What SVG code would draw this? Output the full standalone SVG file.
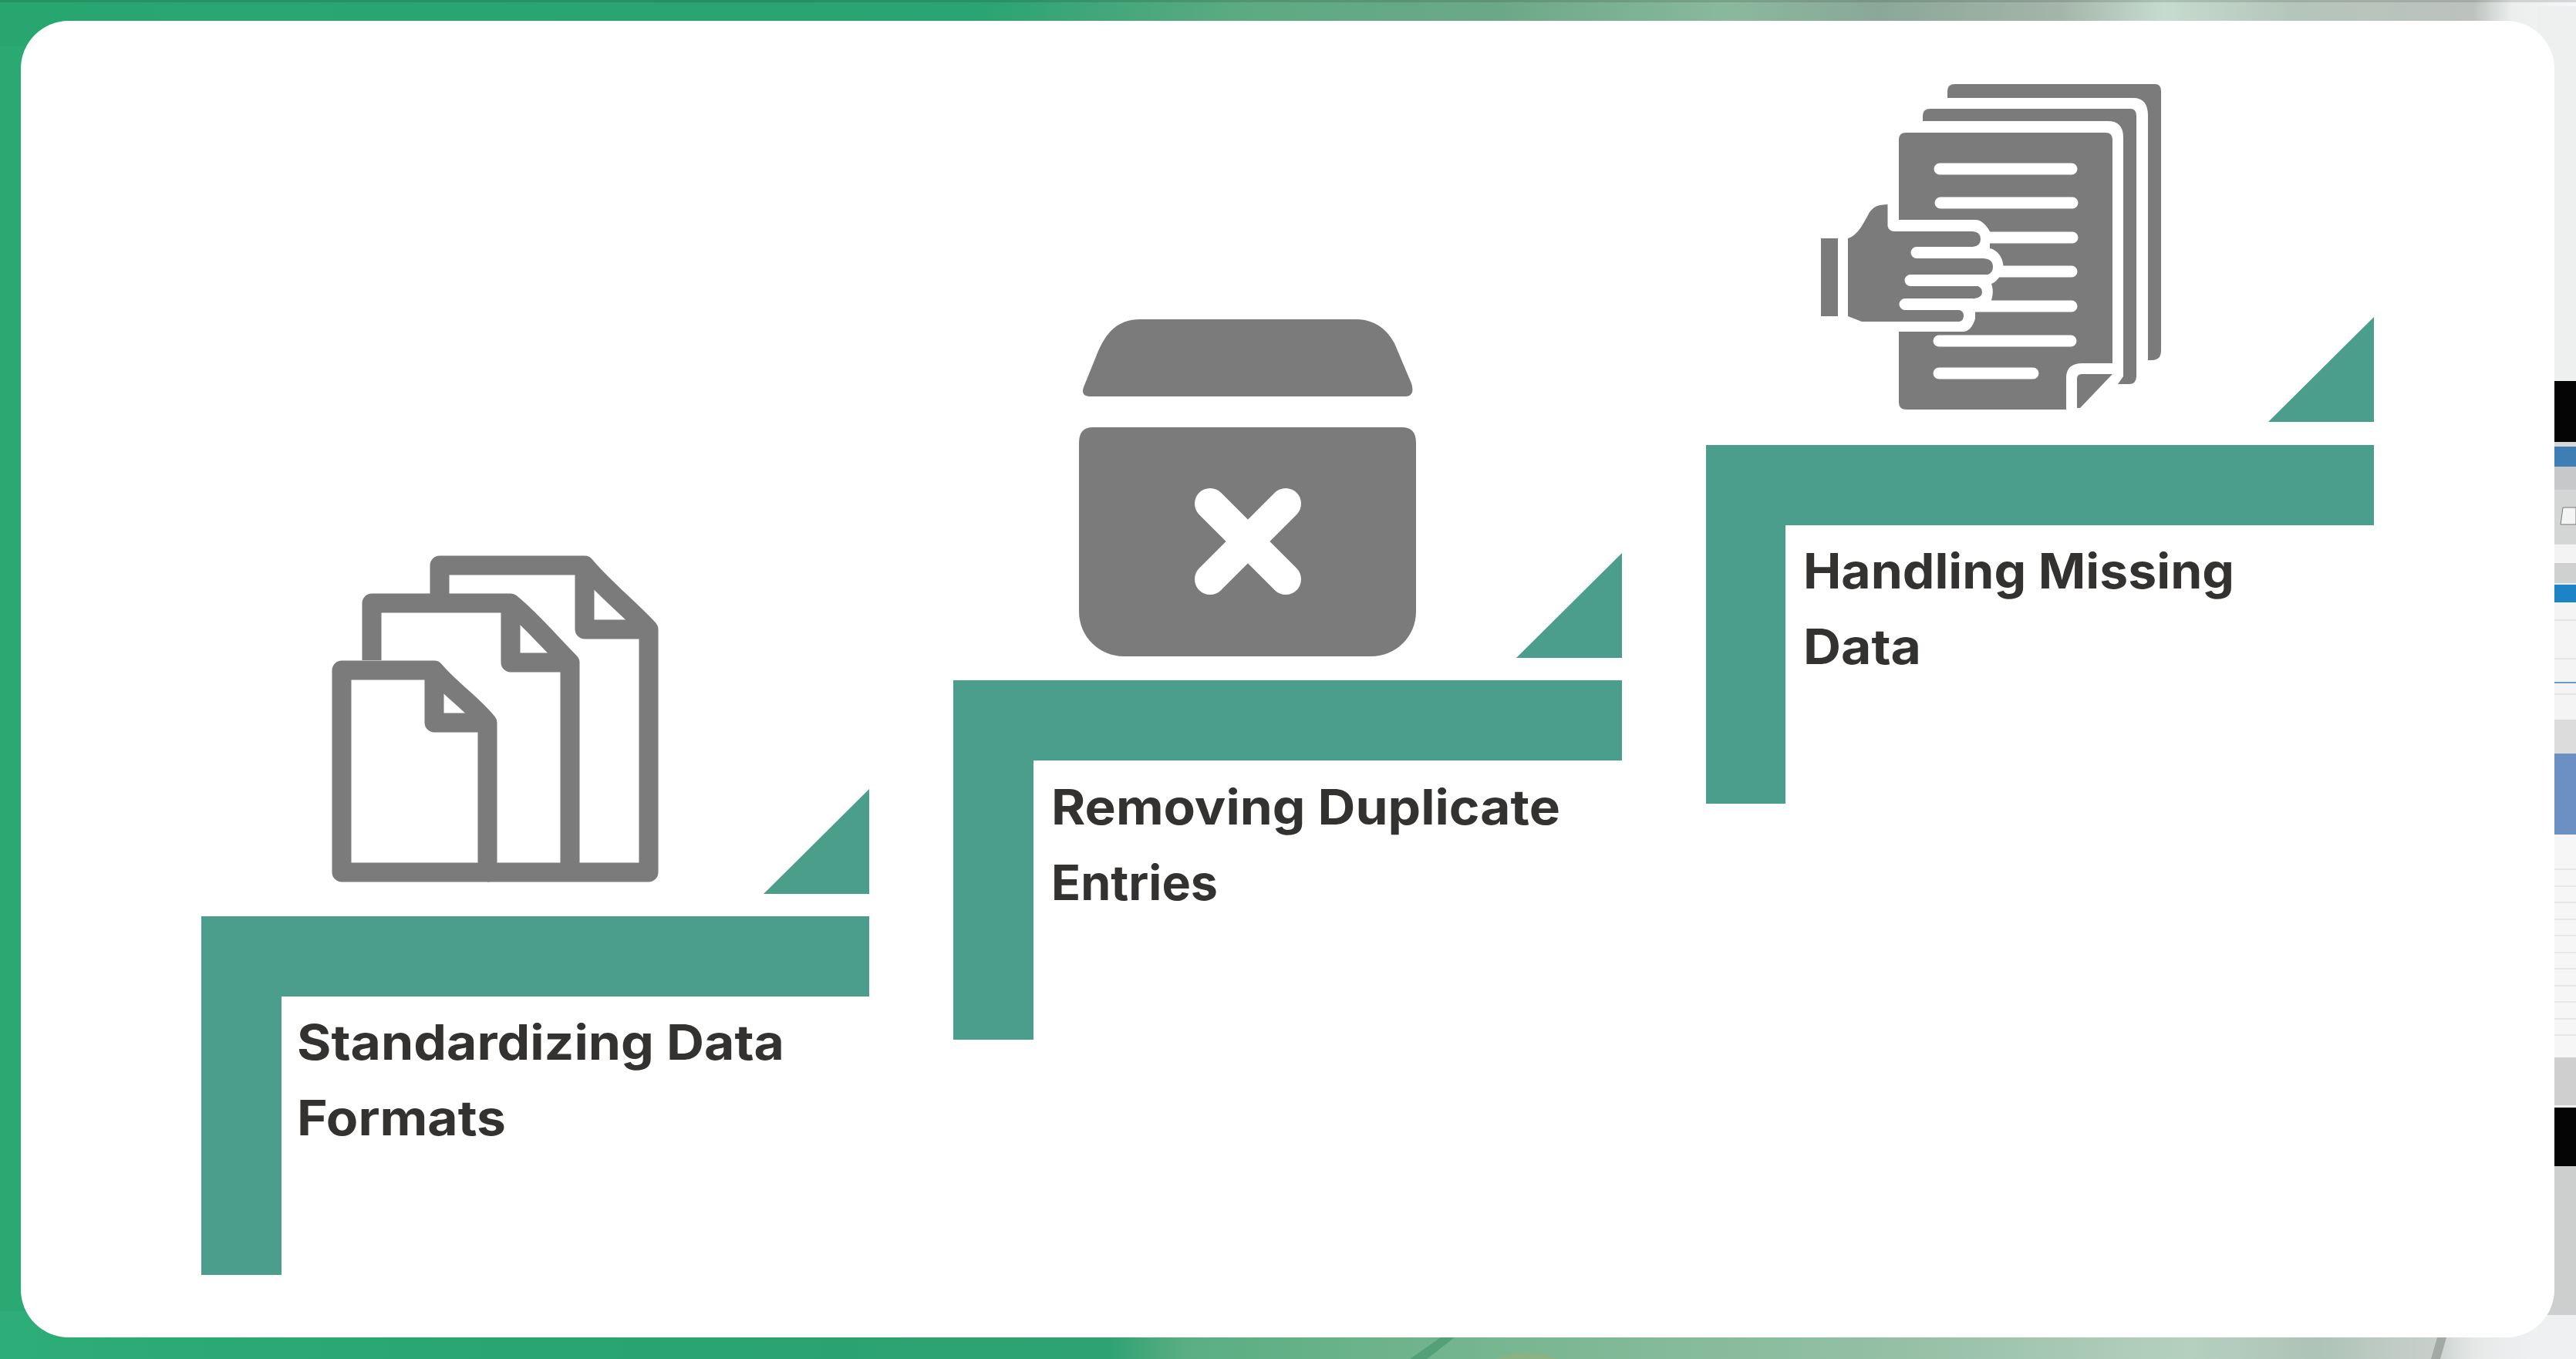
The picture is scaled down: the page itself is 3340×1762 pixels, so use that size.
<svg xmlns="http://www.w3.org/2000/svg" width="3340" height="1762" viewBox="0 0 3340 1762">
<style>
.teal{fill:#4a9e8b}
.ink{fill:#7b7b7b}
.w{fill:#fff}
.o{fill:none;stroke:#7b7b7b;stroke-width:25;stroke-linejoin:round}
.l{fill:none;stroke:#fff;stroke-width:15;stroke-linecap:round}
.x{fill:none;stroke:#fff;stroke-width:40;stroke-linecap:round}
.t{font-family:"Inter","Liberation Sans",sans-serif;font-weight:700;font-size:63px;fill:#333230}
</style>
<defs>
<linearGradient id="gb" x1="0" x2="3340" y1="0" y2="0" gradientUnits="userSpaceOnUse">
<stop offset="0" stop-color="#2dad78"/><stop offset=".2" stop-color="#28a570"/><stop offset=".43" stop-color="#2ea272"/><stop offset=".46" stop-color="#5aae83"/><stop offset=".6" stop-color="#7bb793"/><stop offset=".75" stop-color="#98c1a8"/><stop offset=".85" stop-color="#b5d0bf"/><stop offset=".9" stop-color="#aec3b8"/><stop offset=".945" stop-color="#c9d0cc"/><stop offset=".96" stop-color="#e6e8e8"/><stop offset="1" stop-color="#f5f6f8"/>
</linearGradient>
<linearGradient id="gt" x1="0" x2="3340" y1="0" y2="0" gradientUnits="userSpaceOnUse">
<stop offset="0" stop-color="#28a670"/><stop offset=".38" stop-color="#2aa472"/><stop offset=".48" stop-color="#5caa82"/><stop offset=".58" stop-color="#6ba888"/><stop offset=".67" stop-color="#8ab99d"/><stop offset=".73" stop-color="#8aa898"/><stop offset=".8" stop-color="#a5b5ab"/><stop offset=".84" stop-color="#c6dccf"/><stop offset=".89" stop-color="#b5c5bb"/><stop offset=".96" stop-color="#bcc2be"/><stop offset=".975" stop-color="#eceeee"/><stop offset="1" stop-color="#f5f6f7"/>
</linearGradient>
</defs>
<g id="background">
<rect x="0" y="0" width="3340" height="1762" fill="#2aa972"/>
<rect x="0" y="0" width="3340" height="60" fill="url(#gt)"/>
<rect x="0" y="0" width="3340" height="3" fill="#000" opacity=".12"/>
<rect x="0" y="1700" width="3340" height="62" fill="url(#gb)"/>
<path d="M1868 1734 L1886 1734 L1850 1762 L1828 1762 Z" fill="#3d8f68" opacity=".55"/>
<path d="M1940 1762 Q1975 1745 2020 1762 Z" fill="#a8ad6c" opacity=".4"/>
<path d="M3160 1734 L3172 1734 L3164 1762 L3152 1762 Z" fill="#a2aaa6"/>
<rect x="3290" y="8" width="50" height="1697" fill="#eef0f0"/>
<rect x="3290" y="1511" width="50" height="194" fill="#cdcfcf"/>
<rect x="3290" y="1705" width="50" height="57" fill="#eff0f1"/>
<rect x="3300" y="494" width="40" height="79" fill="#050505"/>
<rect x="3300" y="573" width="40" height="6" fill="#d8d8d8"/>
<rect x="3300" y="579" width="40" height="26" fill="#3f7db5"/>
<rect x="3300" y="605" width="40" height="30" fill="#c6c8c9"/>
<rect x="3300" y="635" width="40" height="71" fill="#d4d5d5"/>
<path d="M3323 658 H3340 V680 H3320 Z" fill="#f4f4f4" stroke="#777" stroke-width="1"/>
<rect x="3300" y="706" width="40" height="24" fill="#f3f3f3"/>
<rect x="3300" y="730" width="40" height="26" fill="#cfd0d0"/>
<rect x="3300" y="758" width="40" height="23" fill="#1c84c6"/>
<rect x="3300" y="781" width="40" height="152" fill="#f4f4f5"/>
<path d="M3300 804H3340M3300 854H3340M3300 900H3340" stroke="#dedede" stroke-width="1.5"/>
<path d="M3300 885H3340" stroke="#3f7db5" stroke-width="1.5"/>
<rect x="3300" y="933" width="40" height="44" fill="#dcdcdc"/>
<rect x="3300" y="977" width="40" height="105" fill="#6d90c4"/>
<rect x="3300" y="1082" width="40" height="289" fill="#f6f6f6"/>
<path d="M3300 1127H3340M3300 1149H3340M3300 1170H3340M3300 1192H3340M3300 1213H3340M3300 1235H3340M3300 1256H3340M3300 1278H3340M3300 1299H3340M3300 1321H3340M3300 1342H3340" stroke="#e2e2e2" stroke-width="1.5"/>
<rect x="3300" y="1371" width="40" height="62" fill="#cfcfcf"/>
<rect x="3300" y="1436" width="40" height="76" fill="#050505"/>
</g>
<rect id="card" x="27" y="27" width="3285" height="1707" rx="62" ry="62" fill="#fff"/>

<g id="step-1">
<path class="teal" d="M261 1188H1127V1292H365V1653H261Z"/>
<path class="teal" d="M990 1159H1127V1023Z"/>
<g id="icon-1">
<path class="o" d="M443 869H563C585 895 612 912 632 937V1131H443Z"/>
<path class="o" d="M563 869V937H632"/>
<path class="o" d="M482 856V782H662C690 805 715 835 739 859V1131"/>
<path class="o" d="M662 782V859H739"/>
<path class="o" d="M570 782V733H758C780 760 815 788 841 816V1131H632"/>
<path class="o" d="M758 733V816H841"/>
</g>
<text class="t" x="385" y="1374" textLength="632" lengthAdjust="spacingAndGlyphs">Standardizing Data</text>
<text class="t" x="385" y="1472" textLength="271" lengthAdjust="spacingAndGlyphs">Formats</text>
</g>

<g id="step-2">
<path class="teal" d="M1236 882H2103V986H1340V1348H1236Z"/>
<path class="teal" d="M1966 853H2103V717Z"/>
<g id="icon-2">
<path class="ink" d="M1412 514Q1401 513 1405 502L1422 460C1434 430 1450 414 1478 414H1758C1785 414 1800 430 1808 445L1830 497Q1835 513 1823 514Z"/>
<path class="ink" d="M1417 554H1818Q1836 554 1836 574V793A58 58 0 0 1 1778 851H1457A58 58 0 0 1 1399 793V574Q1399 554 1417 554Z"/>
<path class="x" d="M1569 653L1667 751M1667 653L1569 751"/>
</g>
<text class="t" x="1363" y="1069" textLength="660" lengthAdjust="spacingAndGlyphs">Removing Duplicate</text>
<text class="t" x="1363" y="1167" textLength="216" lengthAdjust="spacingAndGlyphs">Entries</text>
</g>

<g id="step-3">
<path class="teal" d="M2212 577H3078V681H2315V1042H2212Z"/>
<path class="teal" d="M2941 547H3078V411Z"/>
<g id="icon-3">
<path class="ink" d="M2525 127V118Q2525 109 2535 109H2794Q2802 109 2802 118V455Q2802 467 2790 467H2785V150Q2785 127 2766 127Z"/>
<path class="ink" d="M2493 157V150Q2493 141 2503 141H2762Q2770 141 2770 150V488Q2770 498 2760 498H2746L2753 488V178Q2753 157 2733 157Z"/>
<path class="ink" d="M2471 172H2730Q2739 172 2739 181V471H2700Q2679 471 2679 490V531H2472Q2462 531 2462 522V181Q2462 172 2471 172Z"/>
<path class="ink" d="M2699 485H2739L2697 529H2693V491Q2693 485 2699 485Z"/>
<path class="l" d="M2515 219H2686M2516 263H2687M2570 308H2687M2590 352H2686M2560 397H2686M2514 442H2685M2514 484H2636"/>
<path class="w" d="M2440 285H2561C2570 285 2576 293 2580 300V322C2590 324 2597 334 2597.5 345C2597 352 2592 364 2582 368C2585 376 2584 384 2581 392H2561V413C2558 424 2552 430 2545 430H2440Z"/>
<rect class="ink" x="2361" y="309" width="22" height="101"/>
<path class="ink" d="M2396 309C2408 306 2416 290 2423 277C2430 266 2436 266 2447.5 265V293Q2449 300 2456 300H2558Q2568 301 2568 310Q2568 319 2558 320V335H2572Q2584 336 2584 346Q2584 356 2572 357V370H2560Q2570 371 2570 378.5Q2570 386 2560 387V402H2540Q2546 403 2546 409.5Q2546 416 2540 417H2414L2396 410Z"/>
<path class="l" d="M2485 327.5H2570M2477 363.5H2575M2470 394.5H2558"/>
</g>
<text class="t" x="2338" y="763" textLength="559" lengthAdjust="spacingAndGlyphs">Handling Missing</text>
<text class="t" x="2338" y="861" textLength="153" lengthAdjust="spacingAndGlyphs">Data</text>
</g>
</svg>
